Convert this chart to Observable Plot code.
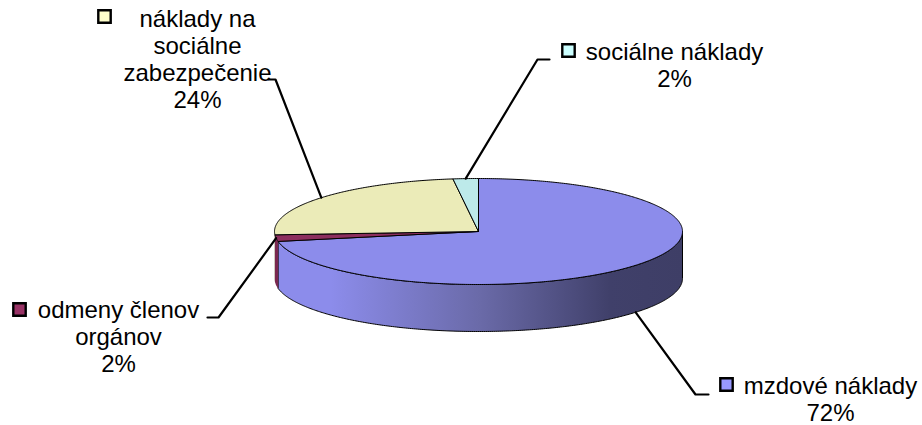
<!DOCTYPE html>
<html>
<head>
<meta charset="utf-8">
<script src="https://cdn.jsdelivr.net/npm/d3@7"></script>
<script src="https://cdn.jsdelivr.net/npm/@observablehq/plot@0.6"></script>
<style>html,body{margin:0;padding:0;background:#fff}svg{display:block}</style>
</head>
<body>
<div id="chart"></div>
<script>
// Data
const categories = ["mzdové náklady", "odmeny členov\norgánov", "náklady na\nsociálne\nzabezpečenie", "sociálne náklady"];
const percents = [72, 2, 24, 2];

// Styles
const faceColors = ["#8c8ceb", "#8c2e5e", "#ebebb8", "#bdeaea"];
const sideColors = ["url(#sideGradient)", "#7a2850", "#9c9c7c", "#7e9c9c"];
const keyColors = ["#9999ff", "#993366", "#ffffcc", "#ccffff"];

// Layout of the pie and its callouts, in page units
const W = 922, H = 425;
const cx = 478, cy = 231, rx = 204, ry = 53, depth = 47;
const anchorOnSide = [true, false, false, false];
const elbowX = [695, 218, 275, 537];
const elbowY = [394, 317, 79, 59];
const shelfX = [708, 207, 268, 549];
const textX = [830, 118, 197, 674];
const textY = [393, 317, 26, 59];
const keyX = [726, 19, 104, 568];
const keyY = [384, 309, 16, 50];
const lineHeight = 27, fontSize = 24;

const arcs = d3.pie().sort(null).value(d => d)(percents);
const px = t => cx + rx * Math.sin(t);
const py = t => cy - ry * Math.cos(t);
const sweep = (a, b) => {
  const n = Math.max(2, Math.ceil(Math.abs(b - a) / 0.01));
  return d3.range(n + 1).map(i => a + (b - a) * i / n);
};
const face = a => {
  const pts = sweep(a.startAngle, a.endAngle).map(t => ({x: px(t), y: py(t)}));
  return [{x: cx, y: cy}, ...pts, {x: cx, y: cy}];
};
const side = a => {
  const lo = Math.max(a.startAngle, Math.PI / 2), hi = Math.min(a.endAngle, 3 * Math.PI / 2);
  if (hi <= lo) return [];
  const ts = sweep(lo, hi);
  const pts = [...ts.map(t => ({x: px(t), y: py(t)})), ...ts.slice().reverse().map(t => ({x: px(t), y: py(t) + depth}))];
  return [...pts, pts[0]];
};
const leader = (a, i) => {
  const m = (a.startAngle + a.endAngle) / 2;
  return [
    {x: px(m), y: py(m) + (anchorOnSide[i] ? depth : 0)},
    {x: elbowX[i], y: elbowY[i]},
    {x: shelfX[i], y: elbowY[i]}
  ];
};
const rows = categories.map((c, i) => ({
  name: c, x: textX[i], y: textY[i], kx: keyX[i], ky: keyY[i],
  lines: [...c.split("\n"), percents[i] + "%"]
}));
const textRows = rows.flatMap(r => r.lines.map((t, j) => ({t, x: r.x, y: r.y + j * lineHeight})));

const defs = () => {
  const d = d3.create("svg:defs");
  const g = d.append("linearGradient").attr("id", "sideGradient");
  [[0, "#8c8ceb"], [0.13, "#8c8ceb"], [0.5, "#6a6aa8"], [0.73, "#4c4c7c"], [0.82, "#40406a"], [1, "#3e3e66"]]
    .forEach(([o, c]) => g.append("stop").attr("offset", o).attr("stop-color", c));
  return d.node();
};

const chart = Plot.plot({
  width: W, height: H, margin: 0,
  x: {domain: [0, W], range: [0, W], axis: null},
  y: {domain: [0, H], range: [0, H], axis: null},
  style: {background: "#fff"},
  marks: [
    defs,
    ...arcs.map((a, i) => Plot.line(side(a), {x: "x", y: "y", fill: sideColors[i], stroke: i === 0 ? "#000" : "none", strokeWidth: 1})),
    ...arcs.map((a, i) => Plot.line(face(a), {x: "x", y: "y", fill: faceColors[i], stroke: "#000", strokeWidth: 1})),
    ...arcs.map((a, i) => Plot.line(leader(a, i), {x: "x", y: "y", stroke: "#000", strokeWidth: 2.2})),
    Plot.dot(rows, {x: "kx", y: "ky", symbol: "square", r: 7, fill: d => keyColors[rows.indexOf(d)], stroke: "#000", strokeWidth: 2.4}),
    Plot.text(textRows, {x: "x", y: "y", text: "t", textAnchor: "middle", lineAnchor: "bottom", fontSize, fontFamily: "'Liberation Sans', Arial, sans-serif", fill: "#000"})
  ]
});
document.getElementById("chart").append(chart);
</script>
</body>
</html>
